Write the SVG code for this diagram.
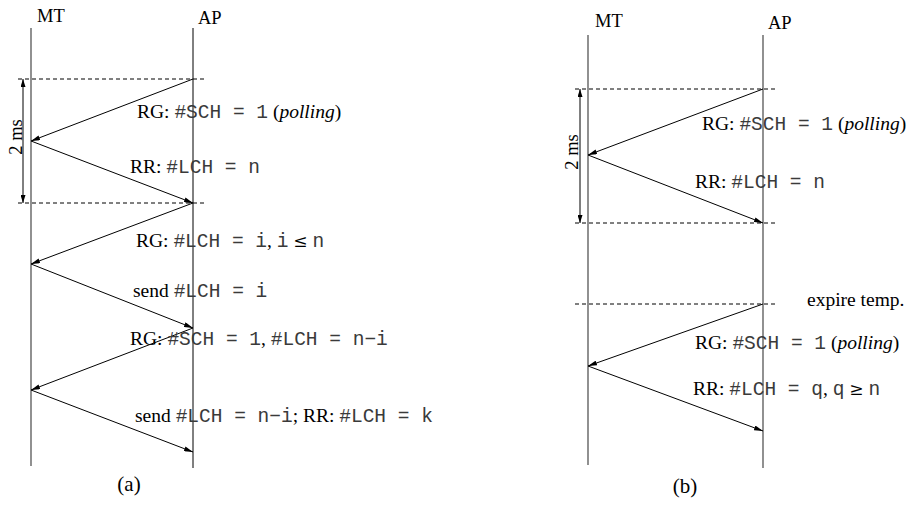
<svg xmlns="http://www.w3.org/2000/svg" width="914" height="532" viewBox="0 0 914 532">
<style>
.t{font-family:"Liberation Serif","Times New Roman",serif;font-size:19.5px;fill:#000}
.h{font-family:"Liberation Serif","Times New Roman",serif;font-size:18.5px;fill:#000}
.m{font-family:"Liberation Mono","Courier New",monospace;font-size:19.5px;fill:#3a3a3a}
.i{font-style:italic}
.s{font-family:"DejaVu Serif",serif;font-size:17px}
.cap{font-family:"Liberation Serif","Times New Roman",serif;font-size:21px;fill:#000;text-anchor:middle}
.life{stroke:#555;stroke-width:1.3;fill:none}
.lifeb{stroke:#000;stroke-width:1;fill:none}
.dash{stroke:#000;stroke-width:1;stroke-dasharray:4 3;fill:none}
.msg{stroke:#000;stroke-width:1;fill:none;marker-end:url(#ah)}
.dim{stroke:#000;stroke-width:1;fill:none;marker-start:url(#ah2);marker-end:url(#ah2)}
</style>
<defs>
<marker id="ah" viewBox="0 0 9 5" refX="9" refY="2.5" markerWidth="9" markerHeight="5" markerUnits="userSpaceOnUse" orient="auto"><path d="M0,0 L9,2.5 L0,5 z" fill="#000"/></marker>
<marker id="ah2" viewBox="0 0 8 5" refX="8" refY="2.5" markerWidth="8" markerHeight="5" markerUnits="userSpaceOnUse" orient="auto-start-reverse"><path d="M0,0 L8,2.5 L0,5 z" fill="#000"/></marker>
</defs>

<!-- Panel (a) -->
<g id="a-MT">
<text class="h" x="37" y="22">MT</text>
<line class="life" x1="31" y1="28" x2="31" y2="466"/>
</g>
<g id="a-AP">
<text class="h" x="198" y="24">AP</text>
<line class="lifeb" x1="193" y1="28" x2="193" y2="468"/>
</g>
<g id="a-timing">
<line class="dash" x1="18" y1="79" x2="207" y2="79"/>
<line class="dash" x1="18" y1="203" x2="207" y2="203"/>
<line class="dim" x1="23" y1="79" x2="23" y2="203"/>
<text class="h" text-anchor="middle" transform="translate(21.5,137) rotate(-90)">2 ms</text>
</g>
<g id="a-connectors">
<path class="msg" d="M193,79 L31,141"/>
<path class="msg" d="M31,141 L193,203"/>
<path class="msg" d="M193,203 L31,264"/>
<path class="msg" d="M31,264 L193,328"/>
<path class="msg" d="M193,328 L31,390"/>
<path class="msg" d="M31,390 L193,452"/>
</g>
<g id="a-labels">
<text class="t" x="137" y="118">RG: <tspan class="m">#SCH = 1</tspan> (<tspan class="i">polling</tspan>)</text>
<text class="t" x="130" y="173">RR: <tspan class="m">#LCH = n</tspan></text>
<text class="t" x="136" y="247">RG: <tspan class="m">#LCH = i</tspan>, <tspan class="m">i</tspan> <tspan class="s">≤</tspan> <tspan class="m">n</tspan></text>
<text class="t" x="133" y="297">send <tspan class="m">#LCH = i</tspan></text>
<text class="t" x="130" y="345">RG: <tspan class="m">#SCH = 1</tspan>, <tspan class="m">#LCH = n−i</tspan></text>
<text class="t" x="135" y="422">send <tspan class="m">#LCH = n−i</tspan>; RR: <tspan class="m">#LCH = k</tspan></text>
<text class="cap" x="129" y="491">(a)</text>
</g>

<!-- Panel (b) -->
<g id="b-MT">
<text class="h" x="595" y="27">MT</text>
<line class="life" x1="588" y1="35" x2="588" y2="465"/>
</g>
<g id="b-AP">
<text class="h" x="768" y="29">AP</text>
<line class="life" x1="763" y1="35" x2="763" y2="468"/>
</g>
<g id="b-timing">
<line class="dash" x1="575" y1="89" x2="777" y2="89"/>
<line class="dash" x1="575" y1="223" x2="777" y2="223"/>
<line class="dash" x1="575" y1="304" x2="777" y2="304"/>
<line class="dim" x1="580" y1="89" x2="580" y2="223"/>
<text class="h" text-anchor="middle" transform="translate(578,152) rotate(-90)">2 ms</text>
</g>
<g id="b-connectors">
<path class="msg" d="M763,89 L588,155"/>
<path class="msg" d="M588,155 L763,223"/>
<path class="msg" d="M763,304 L588,366"/>
<path class="msg" d="M588,366 L763,431"/>
</g>
<g id="b-labels">
<text class="t" x="702" y="130">RG: <tspan class="m">#SCH = 1</tspan> (<tspan class="i">polling</tspan>)</text>
<text class="t" x="695" y="188">RR: <tspan class="m">#LCH = n</tspan></text>
<text class="t" x="807" y="306">expire temp.</text>
<text class="t" x="695" y="349">RG: <tspan class="m">#SCH = 1</tspan> (<tspan class="i">polling</tspan>)</text>
<text class="t" x="693" y="395">RR: <tspan class="m">#LCH = q</tspan>, <tspan class="m">q</tspan> <tspan class="s">≥</tspan> <tspan class="m">n</tspan></text>
<text class="cap" x="685" y="493">(b)</text>
</g>
</svg>
